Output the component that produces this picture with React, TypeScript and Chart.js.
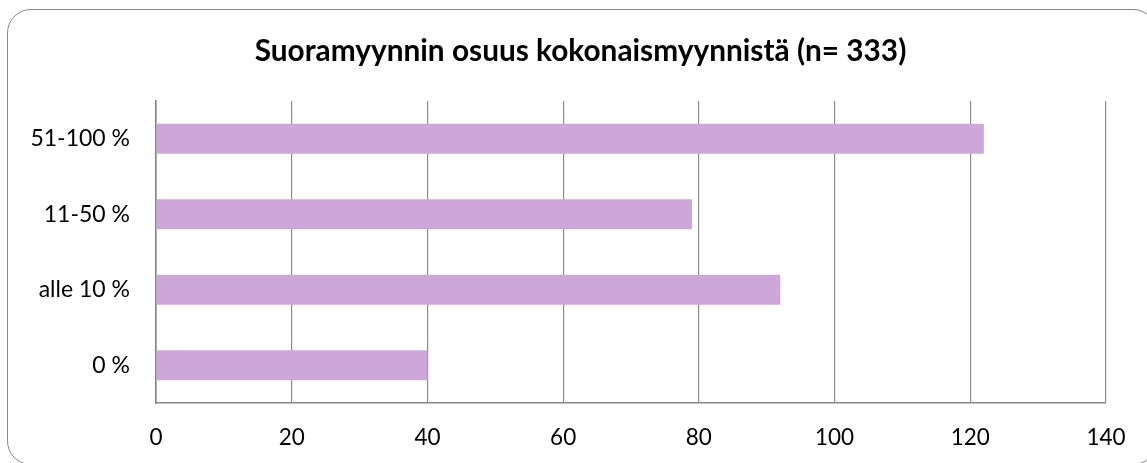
import { useEffect, useRef } from "react";
import { Chart, registerables } from "chart.js";

Chart.register(...registerables);

const chartTitle = "Suoramyynnin osuus kokonaismyynnistä (n= 333)";
const categories = ["0 %", "alle 10 %", "11-50 %", "51-100 %"];
const values = [40, 92, 79, 122];
const xMin = 0;
const xMax = 140;
const xStep = 20;

const BAR_COLOR = "#CDA7DA";
const GRID_COLOR = "#8c8c8c";
const AXIS_COLOR = "#868686";
const TEXT_COLOR = "#000000";
const FONT = "Lato";

// Title drawn centred on the framed box (which is offset from the canvas centre).
const boxTitlePlugin = {
  id: "boxTitle",
  afterDraw(chart: any) {
    const ctx = chart.ctx as CanvasRenderingContext2D;
    ctx.save();
    ctx.font = `bold 29.8px ${FONT}`;
    ctx.fillStyle = TEXT_COLOR;
    ctx.textAlign = "center";
    ctx.textBaseline = "alphabetic";
    ctx.fillText(chartTitle, chart.width / 2 + 7, 61);
    ctx.restore();
  },
};

export default function App() {
  const ref = useRef<HTMLCanvasElement>(null);

  useEffect(() => {
    const chart = new Chart(ref.current!, {
      type: "bar",
      data: {
        labels: categories,
        datasets: [
          {
            data: values,
            backgroundColor: BAR_COLOR,
            borderWidth: 0,
            barPercentage: 0.4,
            categoryPercentage: 1,
          },
        ],
      },
      options: {
        indexAxis: "y",
        animation: false,
        responsive: false,
        maintainAspectRatio: false,
        layout: { padding: { left: 0, right: 41, top: 101, bottom: 0 } },
        plugins: {
          legend: { display: false },
          tooltip: { enabled: false },
          title: { display: false },
        },
        scales: {
          x: {
            type: "linear",
            min: xMin,
            max: xMax,
            ticks: {
              stepSize: xStep,
              color: TEXT_COLOR,
              font: { family: FONT, size: 22.5 },
              padding: 21,
            },
            grid: { color: GRID_COLOR, lineWidth: 1.2, drawTicks: false },
            border: { display: true, color: AXIS_COLOR, width: 1.6 },
            afterFit: (s: any) => {
              s.height = 60;
            },
          },
          y: {
            reverse: true,
            ticks: {
              color: TEXT_COLOR,
              font: { family: FONT, size: 23 },
              padding: 26,
            },
            grid: { display: false, drawTicks: false },
            border: { display: true, color: AXIS_COLOR, width: 1.6 },
            afterFit: (s: any) => {
              s.width = 156;
            },
          },
        },
      },
      plugins: [boxTitlePlugin],
    } as any);
    return () => chart.destroy();
  }, []);

  return (
    <div style={{ position: "fixed", left: 0, top: 0, width: 1147, height: 463, background: "#fff", overflow: "hidden" }}>
      <canvas ref={ref} width={1147} height={463} style={{ position: "absolute", left: 0, top: 0, width: 1147, height: 463 }} />
      <div
        style={{
          position: "absolute",
          left: 7,
          top: 9,
          width: 1150,
          height: 456,
          border: "1.5px solid #8a8a8a",
          borderRadius: 24,
          pointerEvents: "none",
          boxSizing: "border-box",
        }}
      />
    </div>
  );
}
